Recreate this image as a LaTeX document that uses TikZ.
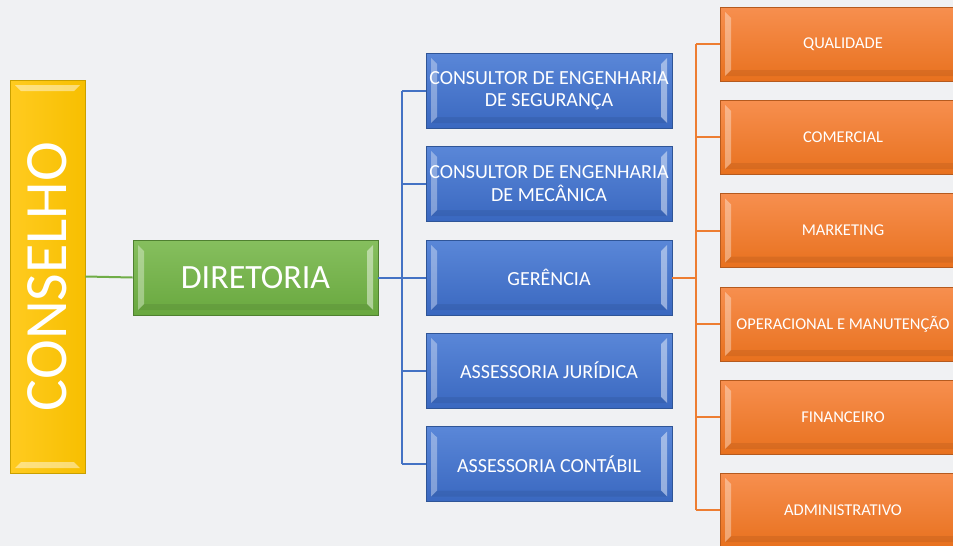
\documentclass[tikz,border=0pt]{standalone}
\usepackage{fontspec}
\setmainfont{Carlito}
\usetikzlibrary{calc}
\definecolor{bg}{HTML}{F0F1F3}
\definecolor{yelT}{HTML}{FFCB20}
\definecolor{yelB}{HTML}{F7BF00}
\definecolor{yelD}{HTML}{C9A000}
\definecolor{grnT}{HTML}{86BF5E}
\definecolor{grnB}{HTML}{69A83F}
\definecolor{grnD}{HTML}{4F8030}
\definecolor{grnL}{HTML}{70AD47}
\definecolor{bluT}{HTML}{5A87D8}
\definecolor{bluB}{HTML}{3A68C0}
\definecolor{bluD}{HTML}{2F5597}
\definecolor{bluL}{HTML}{4472C4}
\definecolor{orgT}{HTML}{F78F4F}
\definecolor{orgB}{HTML}{E8711E}
\definecolor{orgD}{HTML}{B55A1E}
\definecolor{orgL}{HTML}{ED7D31}
\tikzset{
  box/.style={rectangle, inner sep=0pt, text=white, align=center, line width=0.8pt},
  bevlr/.style={path picture={
    \def\ppb{path picture bounding box}
    \fill[white,opacity=0.35] ($(\ppb.north west)+(5pt,-5pt)$) -- ($(\ppb.north west)+(11pt,-11pt)$) -- ($(\ppb.south west)+(11pt,11pt)$) -- ($(\ppb.south west)+(5pt,5pt)$) -- cycle;
    \fill[white,opacity=0.45] ($(\ppb.north east)+(-5pt,-5pt)$) -- ($(\ppb.north east)+(-11pt,-11pt)$) -- ($(\ppb.south east)+(-11pt,11pt)$) -- ($(\ppb.south east)+(-5pt,5pt)$) -- cycle;
    \fill[black,opacity=0.07] ($(\ppb.south west)+(11pt,11pt)$) -- ($(\ppb.south east)+(-11pt,11pt)$) -- ($(\ppb.south east)+(-5pt,5pt)$) -- ($(\ppb.south west)+(5pt,5pt)$) -- cycle;
  }},
  bevtb/.style={path picture={
    \def\ppb{path picture bounding box}
    \fill[white,opacity=0.45] ($(\ppb.north west)+(5pt,-5pt)$) -- ($(\ppb.north east)+(-5pt,-5pt)$) -- ($(\ppb.north east)+(-11pt,-11pt)$) -- ($(\ppb.north west)+(11pt,-11pt)$) -- cycle;
    \fill[white,opacity=0.45] ($(\ppb.south west)+(5pt,5pt)$) -- ($(\ppb.south east)+(-5pt,5pt)$) -- ($(\ppb.south east)+(-11pt,11pt)$) -- ($(\ppb.south west)+(11pt,11pt)$) -- cycle;
  }},
  yelbox/.style={box, bevtb, draw=yelD, left color=yelT, right color=yelB, minimum width=75pt, minimum height=393pt, font=\fontsize{60}{60}\selectfont},
  grnbox/.style={box, bevlr, draw=grnD, top color=grnT, bottom color=grnB, minimum width=245pt, minimum height=75pt, font=\fontsize{34}{36}\selectfont},
  blubox/.style={box, bevlr, draw=bluD, top color=bluT, bottom color=bluB, minimum width=246pt, minimum height=75pt, font=\fontsize{20}{22.5}\selectfont},
  orgbox/.style={box, bevlr, draw=orgD, top color=orgT, bottom color=orgB, minimum width=246pt, minimum height=74pt, font=\fontsize{16.5}{19}\selectfont},
  gline/.style={draw=grnL, line width=2pt},
  bline/.style={draw=bluL, line width=2pt},
  oline/.style={draw=orgL, line width=2pt}
}
\begin{document}
\begin{tikzpicture}[x=1pt,y=-1pt]
\useasboundingbox (0,0) rectangle (953,546);
\clip (0,0) rectangle (953,546);
\fill[bg] (0,0) rectangle (953,546);

\node[yelbox] (cons) at (47.5,276.5) {\rotatebox{90}{CONSELHO}};
\node[grnbox] (dir) at (255.5,277.5) {DIRETORIA};
\node[blubox] (b1) at (549,90.5) {CONSULTOR DE ENGENHARIA\\DE SEGURANÇA};
\node[blubox] (b2) at (549,183.5) {CONSULTOR DE ENGENHARIA\\DE MECÂNICA};
\node[blubox] (b3) at (549,277.5) {GERÊNCIA};
\node[blubox] (b4) at (549,370.5) {ASSESSORIA JURÍDICA};
\node[blubox] (b5) at (549,464) {ASSESSORIA CONTÁBIL};
\node[orgbox] (o1) at (843,44) {QUALIDADE};
\node[orgbox] (o2) at (843,137) {COMERCIAL};
\node[orgbox] (o3) at (843,230.5) {MARKETING};
\node[orgbox] (o4) at (843,324) {OPERACIONAL E MANUTENÇÃO};
\node[orgbox] (o5) at (843,417) {FINANCEIRO};
\node[orgbox] (o6) at (843,510) {ADMINISTRATIVO};

\coordinate (bj) at (402,277.5);
\coordinate (oj) at (696,277.5);
\draw[gline] (cons.east) -- (dir.west);
\draw[bline] (dir.east) -- (bj);
\foreach \n in {b1,b2,b3,b4,b5} {\draw[bline] (bj |- \n.west) -- (\n.west);}
\draw[bline] (bj |- b1.west) -- (bj |- b5.west);
\draw[oline] (b3.east) -- (oj);
\foreach \n in {o1,o2,o3,o4,o5,o6} {\draw[oline] (oj |- \n.west) -- (\n.west);}
\draw[oline] (oj |- o1.west) -- (oj |- o6.west);
\end{tikzpicture}
\end{document}
